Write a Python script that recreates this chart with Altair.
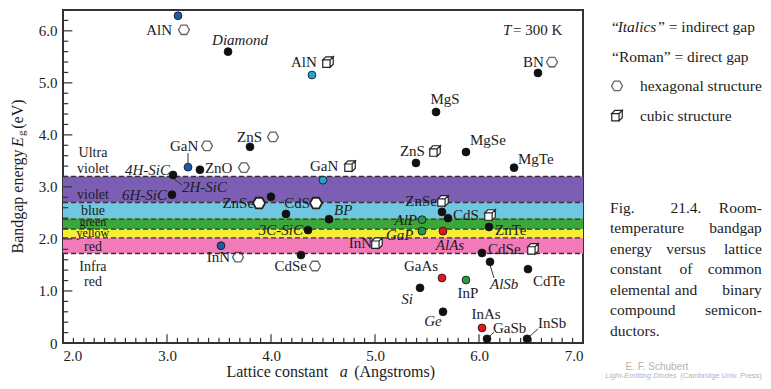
import altair as alt
import pandas as pd

# ---------------- data ----------------
# material points: lattice constant (A), bandgap (eV), colour group
pt_name = ["AlN-hex", "Diamond", "AlN-cub", "BN", "MgS", "ZnS-hex", "GaN-hex", "ZnO",
           "ZnS-cub", "MgSe", "MgTe", "GaN-cub", "4H-SiC", "6H-SiC", "ZnSe-hex", "CdS-hex",
           "BP", "3C-SiC", "InN-hex", "CdSe-hex", "ZnSe-cub", "CdS-cub", "AlP", "GaP",
           "AlAs", "ZnTe", "CdSe-cub", "AlSb", "CdTe", "GaAs", "InP", "Si", "Ge", "InAs",
           "GaSb", "InSb"]
pt_a = [3.106, 3.587, 4.394, 6.567, 5.587, 3.798, 3.202, 3.317,
        5.394, 5.875, 6.337, 4.500, 3.058, 3.048, 4.000, 4.144,
        4.558, 4.356, 3.519, 4.288, 5.644, 5.702, 5.452, 5.452,
        5.654, 6.096, 6.029, 6.106, 6.471, 5.644, 5.875, 5.433, 5.654, 6.029,
        6.077, 6.462]
pt_eg = [6.29, 5.60, 5.15, 5.19, 4.44, 3.77, 3.38, 3.33,
         3.46, 3.67, 3.37, 3.13, 3.23, 2.85, 2.81, 2.48,
         2.38, 2.17, 1.87, 1.69, 2.52, 2.40, 2.37, 2.15,
         2.15, 2.23, 1.73, 1.56, 1.42, 1.25, 1.21, 1.06, 0.60, 0.29,
         0.08, 0.08]
pt_group = ["blue", "black", "cyan", "black", "black", "black", "blue", "black",
            "black", "black", "black", "cyan", "black", "black", "black", "black",
            "black", "black", "blue", "black", "black", "black", "green", "green",
            "red", "black", "black", "black", "black", "red", "green", "black", "black", "red",
            "black", "black"]
group_domain = ["black", "blue", "cyan", "green", "red"]
group_range = ["#111111", "#1d5aa6", "#22a5c8", "#2a9848", "#e3161b"]

# colour bands
band_lo = [1.72, 2.02, 2.19, 2.40, 2.70]
band_hi = [2.02, 2.19, 2.40, 2.70, 3.20]
band_col = ["#f27ab9", "#f4ee35", "#3ba63a", "#70c7e1", "#7c5fb4"]
dash_y = [1.72, 2.02, 2.19, 2.38, 2.70, 3.20]

# labels in the plot
lab_text = ["AlN", "Diamond", "AlN", "BN", "MgS", "ZnS", "GaN", "ZnO", "ZnS", "MgSe", "MgTe",
            "GaN", "4H-SiC", "2H-SiC", "6H-SiC", "ZnSe", "CdS", "BP", "3C-SiC", "InN", "CdSe",
            "InN", "GaP", "AlP", "AlAs", "ZnSe", "CdS", "ZnTe", "CdSe", "AlSb", "CdTe", "GaAs",
            "InP", "Si", "Ge", "InAs", "GaSb", "InSb", "= 300 K", "T"]
lab_x = [3.048, 3.702, 4.192, 6.423, 5.673, 3.673, 3.029, 3.365, 5.240, 5.913, 6.375,
         4.375, 3.029, 3.144, 3.000, 3.837, 4.375, 4.606, 4.308, 3.606, 4.346,
         4.971, 5.106, 5.404, 5.721, 5.596, 5.750, 6.154, 6.087, 6.106, 6.519, 5.442,
         5.894, 5.308, 5.558, 6.067, 6.135, 6.567, 6.327, 6.231]
lab_y = [6.02, 5.83, 5.40, 5.40, 4.69, 3.96, 3.79, 3.37, 3.69, 3.90, 3.54,
         3.40, 3.33, 3.00, 2.85, 2.69, 2.69, 2.56, 2.17, 1.65, 1.48,
         1.92, 2.08, 2.37, 1.88, 2.73, 2.46, 2.17, 1.81, 1.13, 1.19, 1.48,
         0.96, 0.85, 0.42, 0.56, 0.29, 0.38, 6.02, 6.02]
lab_align = ["right", "center", "left", "left", "center", "left", "left", "left", "left", "left", "left",
             "left", "right", "left", "right", "right", "right", "left", "right", "right", "right",
             "right", "left", "right", "center", "right", "left", "left", "left", "left", "left", "center",
             "center", "center", "center", "center", "left", "left", "left", "left"]
lab_italic = [False, True, False, False, False, False, False, False, False, False, False,
              False, True, True, True, False, False, True, True, False, False,
              False, True, True, True, False, False, False, False, True, False, False,
              False, True, True, False, False, False, False, True]

# band / region names
band_text = ["Ultra", "violet", "violet", "blue", "green", "yellow", "red", "Infra", "red"]
band_text_y = [3.65, 3.35, 2.85, 2.53, 2.335, 2.105, 1.85, 1.46, 1.17]
band_text_x = [2.288] * 9
band_text_size = [14, 14, 14, 14, 12, 12, 14, 14, 14]

# crystal-structure symbols next to labels
hex_x = [3.163, 6.702, 4.019, 3.385, 3.740, 3.683, 4.423]
hex_y = [6.02, 5.40, 3.96, 3.79, 3.37, 1.65, 1.48]
hexw_x = [3.885, 4.433]
hexw_y = [2.69, 2.69]
cube_x = [4.548, 5.577, 4.760, 5.019, 5.654, 6.106, 6.519]
cube_y = [5.40, 3.69, 3.40, 1.92, 2.73, 2.46, 1.81]

# leader lines
lead_x = [3.202, 3.067, 6.106, 6.087, 6.471]
lead_y = [3.65, 3.15, 1.50, 0.10, 0.10]
lead_x2 = [3.202, 3.144, 6.144, 6.144, 6.567]
lead_y2 = [3.46, 3.04, 1.25, 0.21, 0.27]

# axis tick marks (drawn inward)
x_ticks = [round(2.0 + 0.1 * i, 2) for i in range(51)]
y_ticks = [round(0.2 * i, 2) for i in range(33)]

# legend at the right
leg_text = ["\u201c", "Italics", "\u201d = indirect gap", "\u201cRoman\u201d = direct gap",
            "hexagonal structure", "cubic structure"]
leg_x = [7.279, 7.333, 7.721, 7.279, 7.548, 7.548]
leg_y = [6.08, 6.08, 6.08, 5.50, 4.94, 4.37]
leg_italic = [False, True, False, False, False, False]
leg_hex_x, leg_hex_y = [7.327], [4.94]
leg_cube_x, leg_cube_y = [7.327], [4.37]

# caption (justified by hand)
cap_words = ["Fig.", "21.4.", "Room-", "temperature", "bandgap", "energy", "versus", "lattice",
             "constant", "of", "common", "elemental", "and", "binary", "compound", "semicon-",
             "ductors."]
cap_line = [0, 0, 0, 1, 1, 2, 2, 2, 3, 3, 3, 4, 4, 4, 5, 5, 6]
cap_align = ["left", "center", "right", "left", "right", "left", "center", "right",
             "left", "center", "right", "left", "center", "right", "left", "right", "left"]
cap_line_y = [2.596, 2.212, 1.808, 1.423, 1.019, 0.635, 0.231]
cap_left, cap_mid, cap_right = 7.260, 7.99, 8.72

credit_text = ["E. F. Schubert", "Light-Emitting Diodes", "(Cambridge Univ. Press)"]
credit_x = [7.71, 7.90, 8.72]
credit_y = [-0.47, -0.64, -0.64]

# axis titles
ytitle_text = ["Bandgap energy", "E", "g", "(eV)"]
ytitle_x = [1.565, 1.565, 1.605, 1.565]
ytitle_y = [2.72, 3.86, 4.03, 4.40]
xtitle_text = ["Lattice constant", "a", "(Angstroms)"]
xtitle_x = [4.06, 4.70, 4.80]
xtitle_y = [-0.56, -0.56, -0.56]

# ---------------- chart ----------------
SERIF = "Liberation Serif"
TXT = "#1c1c1c"
xs = alt.Scale(domain=[2, 7], nice=False, zero=False)
ys = alt.Scale(domain=[0, 6.4], nice=False, zero=False)
xaxis = alt.Axis(values=[2, 3, 4, 5, 6, 7], format=".1f", ticks=False, domain=False, grid=False,
                 title=None, labelFont=SERIF, labelFontSize=15, labelColor=TXT, labelPadding=5)
yaxis = alt.Axis(values=[0, 1, 2, 3, 4, 5, 6], ticks=False, domain=False, grid=False, title=None,
                 labelExpr="datum.value == 0 ? '0' : format(datum.value, '.1f')",
                 labelFont=SERIF, labelFontSize=15, labelColor=TXT, labelPadding=6)


def X(f):
    return alt.X(f, type="quantitative", scale=xs, axis=xaxis)


def Y(f):
    return alt.Y(f, type="quantitative", scale=ys, axis=yaxis)


def texts(df, align="left", italic=False, size=15, color=TXT, font=SERIF, angle=None):
    kw = dict(align=align, baseline="middle", font=font, fontSize=size, color=color)
    if italic:
        kw["fontStyle"] = "italic"
    if angle is not None:
        kw["angle"] = angle
    return alt.Chart(df).mark_text(**kw).encode(x=X("x"), y=Y("y"), text="t:N")


layers = []

bands = pd.DataFrame({"lo": band_lo, "hi": band_hi, "c": band_col, "x": 2.0, "x2": 7.0})
layers.append(alt.Chart(bands).mark_rect().encode(
    x=X("x"), x2="x2", y=Y("lo"), y2="hi", color=alt.Color("c:N", scale=None)))

dashes = pd.DataFrame({"y": dash_y, "x": 2.0, "x2": 7.0})
layers.append(alt.Chart(dashes).mark_rule(color="#333333", strokeWidth=1.3, strokeDash=[5, 3]).encode(
    x=X("x"), x2="x2", y=Y("y")))

# inward ticks
xt = pd.DataFrame({"x": x_ticks})
xt["y"] = 0.0
xt["y2"] = [0.17 if abs(v - round(v)) < 1e-6 else 0.10 for v in x_ticks]
layers.append(alt.Chart(xt).mark_rule(color="#333333", strokeWidth=1.2).encode(
    x=X("x"), y=Y("y"), y2="y2"))
yt = pd.DataFrame({"y": y_ticks})
yt["x"] = 2.0
yt["x2"] = [2.09 if abs(v - round(v)) < 1e-6 else 2.05 for v in y_ticks]
layers.append(alt.Chart(yt).mark_rule(color="#333333", strokeWidth=1.2).encode(
    x=X("x"), x2="x2", y=Y("y")))

leads = pd.DataFrame({"x": lead_x, "y": lead_y, "x2": lead_x2, "y2": lead_y2})
layers.append(alt.Chart(leads).mark_rule(color="#333333", strokeWidth=1).encode(
    x=X("x"), y=Y("y"), x2="x2", y2="y2"))

pts = pd.DataFrame({"n": pt_name, "x": pt_a, "y": pt_eg, "g": pt_group})
layers.append(alt.Chart(pts).mark_point(filled=True, size=62, opacity=1, stroke="#111111",
                                        strokeWidth=0.8, shape="circle").encode(
    x=X("x"), y=Y("y"),
    color=alt.Color("g:N", scale=alt.Scale(domain=group_domain, range=group_range), legend=None)))

HEX = "M-1,0L-0.5,-0.866L0.5,-0.866L1,0L0.5,0.866L-0.5,0.866Z"
CUBE = "M-1,-0.4L0.4,-0.4L0.4,1L-1,1Z M-1,-0.4L-0.4,-1L1,-1L0.4,-0.4Z M0.4,1L1,0.4L1,-1L0.4,-0.4Z"

hexdf = pd.DataFrame({"x": hex_x + leg_hex_x, "y": hex_y + leg_hex_y})
layers.append(alt.Chart(hexdf).mark_point(shape=HEX, size=120, filled=False, color="#222222",
                                          strokeWidth=1.3).encode(x=X("x"), y=Y("y")))
hexw = pd.DataFrame({"x": hexw_x, "y": hexw_y})
layers.append(alt.Chart(hexw).mark_point(shape=HEX, size=150, fill="white", fillOpacity=1, opacity=1,
                                         stroke="#222222", strokeWidth=1.8).encode(x=X("x"), y=Y("y")))
cubedf = pd.DataFrame({"x": cube_x + leg_cube_x, "y": cube_y + leg_cube_y})
layers.append(alt.Chart(cubedf).mark_point(shape=CUBE, size=110, fill="white", fillOpacity=1, opacity=1,
                                           stroke="#222222", strokeWidth=1.2).encode(x=X("x"), y=Y("y")))

labs = pd.DataFrame({"t": lab_text, "x": lab_x, "y": lab_y, "al": lab_align, "it": lab_italic})
for al in ["left", "right", "center"]:
    for it in [False, True]:
        sub = labs[(labs.al == al) & (labs.it == it)]
        if len(sub):
            layers.append(texts(sub[["t", "x", "y"]], align=al, italic=it))

bt = pd.DataFrame({"t": band_text, "x": band_text_x, "y": band_text_y, "s": band_text_size})
for s in sorted(set(band_text_size)):
    layers.append(texts(bt[bt.s == s][["t", "x", "y"]], align="center", size=s))

lg = pd.DataFrame({"t": leg_text, "x": leg_x, "y": leg_y, "it": leg_italic})
layers.append(texts(lg[~lg.it][["t", "x", "y"]], align="left", size=15.5))
layers.append(texts(lg[lg.it][["t", "x", "y"]], align="left", italic=True, size=15.5))

cap = pd.DataFrame({"t": cap_words, "line": cap_line, "al": cap_align})
cap["y"] = [cap_line_y[i] for i in cap_line]
cap["x"] = [{"left": cap_left, "center": cap_mid, "right": cap_right}[a] for a in cap_align]
for al in ["left", "center", "right"]:
    layers.append(texts(cap[cap.al == al][["t", "x", "y"]], align=al, size=15.5))

cr = pd.DataFrame({"t": credit_text, "x": credit_x, "y": credit_y})
layers.append(texts(cr.iloc[[0]], align="center", size=10, color="#b4b4b4", font="Liberation Sans"))
layers.append(texts(cr.iloc[[1]], align="right", italic=True, size=7.5, color="#b4b4b4",
                    font="Liberation Sans"))
layers.append(texts(cr.iloc[[2]], align="right", size=7.5, color="#b4b4b4", font="Liberation Sans"))

ytd = pd.DataFrame({"t": ytitle_text, "x": ytitle_x, "y": ytitle_y})
layers.append(texts(ytd.iloc[[0, 3]], align="center", size=16, angle=270))
layers.append(texts(ytd.iloc[[1]], align="center", size=16, italic=True, angle=270))
layers.append(texts(ytd.iloc[[2]], align="center", size=11, angle=270))

xtd = pd.DataFrame({"t": xtitle_text, "x": xtitle_x, "y": xtitle_y})
layers.append(texts(xtd.iloc[[0]], align="center", size=16))
layers.append(texts(xtd.iloc[[1]], align="center", size=16, italic=True))
layers.append(texts(xtd.iloc[[2]], align="left", size=16))

chart = alt.layer(*layers).properties(
    width=520, height=333,
    autosize=alt.AutoSizeParams(type="none"),
    padding={"left": 55, "top": 2, "right": 180, "bottom": 38},
    background="white",
).configure_view(stroke="#333333", strokeWidth=2)

chart.save("out.html", embed_options={"renderer": "svg", "actions": False})
